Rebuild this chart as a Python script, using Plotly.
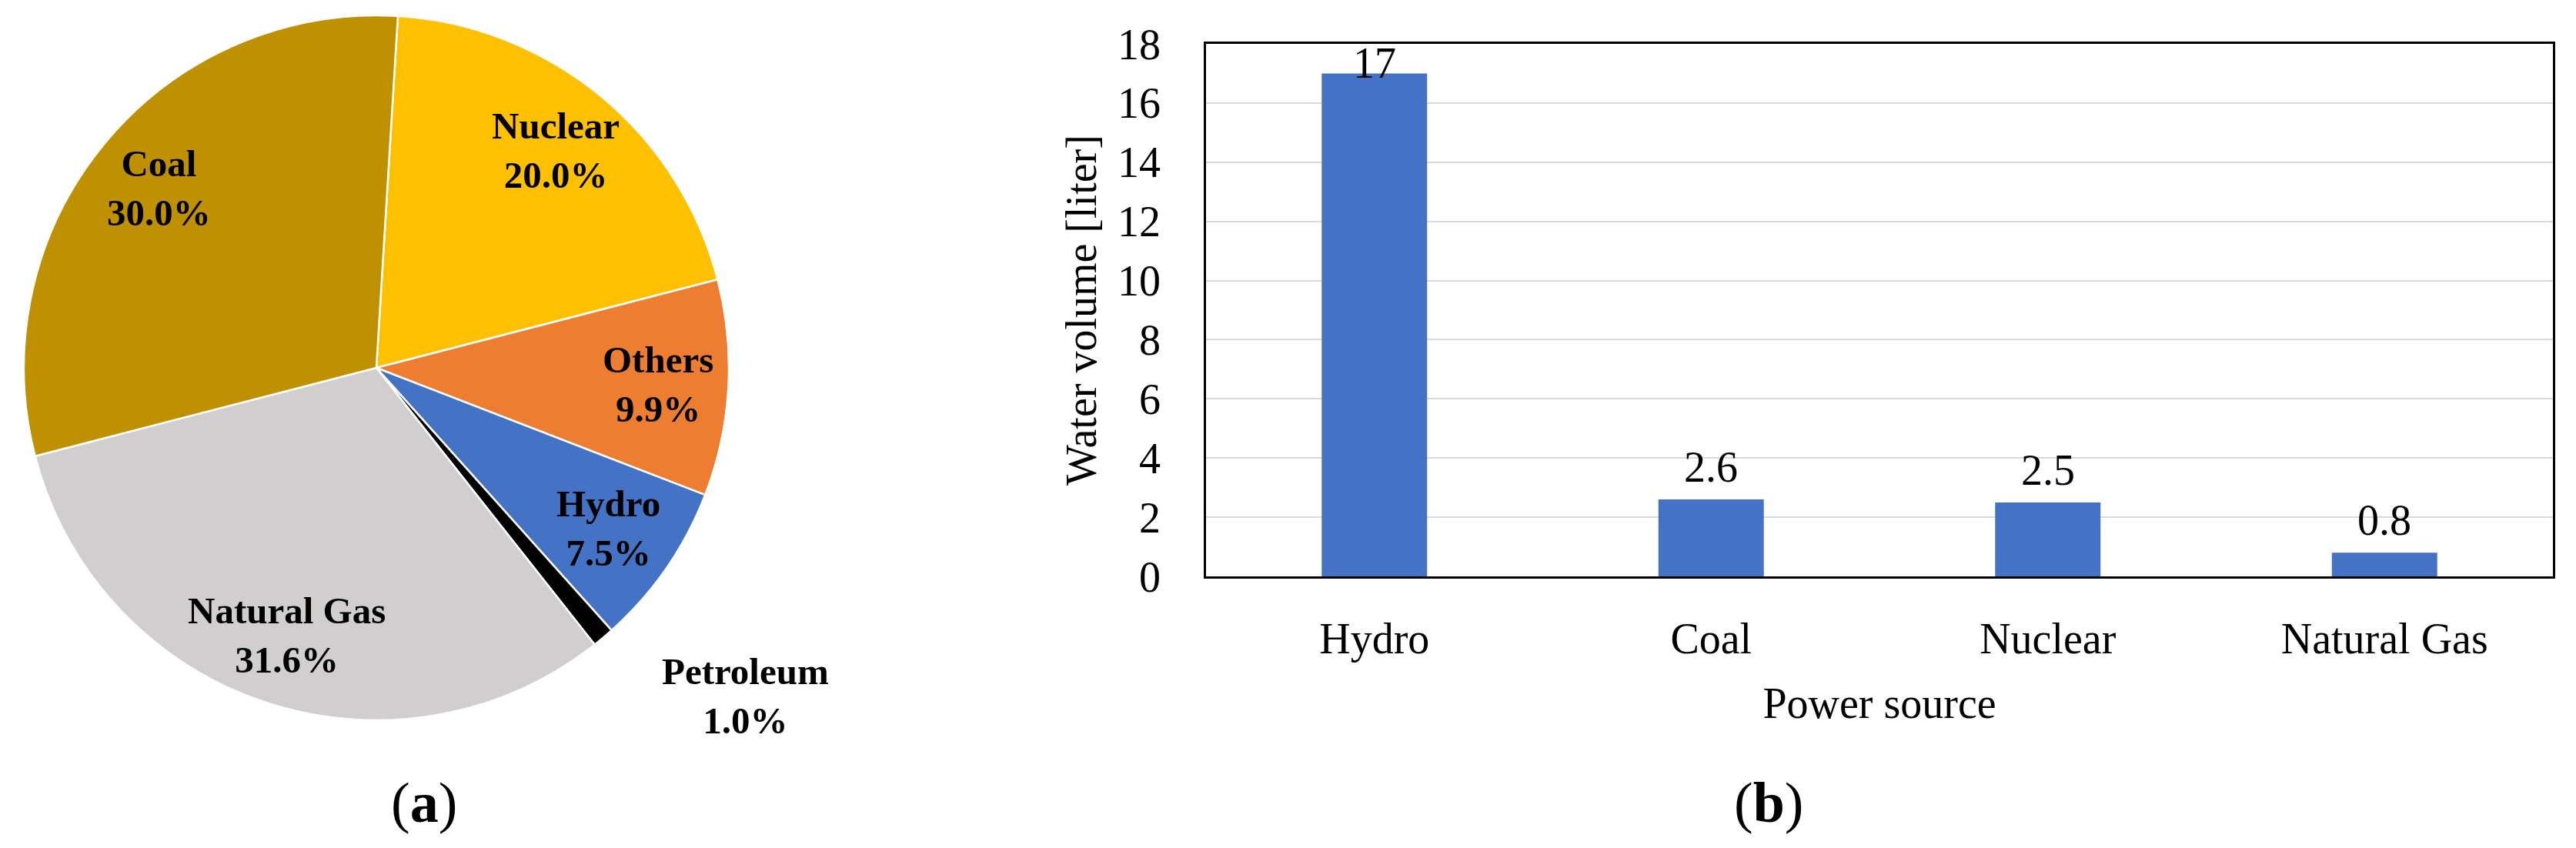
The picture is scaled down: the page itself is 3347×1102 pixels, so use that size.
import math
import plotly.graph_objects as go

# ---------------- data ----------------
pie_labels = ["Nuclear", "Others", "Hydro", "Petroleum", "Natural Gas", "Coal"]
pie_values = [20.0, 9.9, 7.5, 1.0, 31.6, 30.0]
pie_colors = ["#FFC000", "#ED7D31", "#4472C4", "#000000", "#D0CECE", "#BF9000"]
pie_label_outside = [False, False, False, True, False, False]

bar_categories = ["Hydro", "Coal", "Nuclear", "Natural Gas"]
bar_values = [17, 2.6, 2.5, 0.8]
bar_value_labels = ["17", "2.6", "2.5", "0.8"]
y_ticks = [0, 2, 4, 6, 8, 10, 12, 14, 16, 18]

# page / figure geometry: the browser body keeps its default 8px margin
PAGE_W, PAGE_H = 3347, 1102
OFF = 8
FW, FH = PAGE_W - 2 * OFF, PAGE_H - 2 * OFF
SERIF = "Liberation Serif"
ROTATION = 3.5


def px_x(X):
    return (X - OFF) / FW


def px_y(Y):
    return 1 - (Y - OFF) / FH


# pie geometry (page pixels)
PIE_L, PIE_R, PIE_T, PIE_B = 31, 947, 20, 936
pcx, pcy = (PIE_L + PIE_R) / 2, (PIE_T + PIE_B) / 2
pr = (PIE_R - PIE_L) / 2

fig = go.Figure()

# ---------------- (a) pie ----------------
fig.add_trace(go.Pie(
    labels=pie_labels,
    values=pie_values,
    sort=False,
    direction="clockwise",
    rotation=ROTATION,
    marker=dict(colors=pie_colors, line=dict(color="white", width=2.5)),
    textinfo="none",
    showlegend=False,
    hoverinfo="label+percent",
    automargin=False,
    domain=dict(x=[px_x(PIE_L), px_x(PIE_R)], y=[px_y(PIE_B), px_y(PIE_T)]),
))

annotations = []
total = sum(pie_values)
cum = 0.0
for lab, v, outside in zip(pie_labels, pie_values, pie_label_outside):
    mid = ROTATION + (cum + v / 2) / total * 360.0
    cum += v
    a = math.radians(mid)
    text = f"<b>{lab}</b><br><b>{v / total * 100:.1f}%</b>"
    font = dict(family=SERIF, size=49, color="black")
    if outside:
        rr = pr * 1.04
        X = pcx + rr * math.sin(a)
        Y = pcy - rr * math.cos(a)
        annotations.append(dict(
            x=px_x(X), y=px_y(Y), xref="paper", yref="paper", text=text,
            showarrow=False, xanchor="left", yanchor="top", xshift=62, font=font,
        ))
    else:
        rr = pr * 0.80
        X = pcx + rr * math.sin(a)
        Y = pcy - rr * math.cos(a)
        annotations.append(dict(
            x=px_x(X), y=px_y(Y), xref="paper", yref="paper", text=text,
            showarrow=False, xanchor="center", yanchor="middle", font=font,
        ))

# ---------------- (b) bar ----------------
fig.add_trace(go.Bar(
    x=bar_categories,
    y=bar_values,
    marker=dict(color="#4472C4", line=dict(width=0)),
    showlegend=False,
    xaxis="x", yaxis="y",
))

y_dom = [px_y(749), px_y(57)]
x_dom = [px_x(1567), px_x(3317)]
px_per_unit = (y_dom[1] - y_dom[0]) * FH / 18.0

for cat, v, lab in zip(bar_categories, bar_values, bar_value_labels):
    shift = min(42, (18 - v) * px_per_unit - 25)
    annotations.append(dict(
        x=cat, y=v, xref="x", yref="y", text=lab, showarrow=False,
        yanchor="middle", yshift=shift,
        font=dict(family=SERIF, size=56, color="black"),
    ))

annotations.append(dict(x=px_x(506), y=px_y(1043), xref="paper", yref="paper",
                        text="(<b>a</b>)", showarrow=False, yanchor="middle",
                        font=dict(family=SERIF, size=74, color="black")))
annotations.append(dict(x=px_x(2345), y=px_y(1043), xref="paper", yref="paper",
                        text="(<b>b</b>)", showarrow=False, yanchor="middle",
                        font=dict(family=SERIF, size=74, color="black")))

fig.update_layout(
    width=FW, height=FH,
    margin=dict(l=0, r=0, t=0, b=0, autoexpand=False),
    paper_bgcolor="white", plot_bgcolor="white",
    bargap=0.687,
    font=dict(family=SERIF, color="black"),
    xaxis=dict(
        domain=x_dom, type="category", automargin=False,
        showline=True, mirror=True, linecolor="black", linewidth=2.5,
        showgrid=False, ticks="",
        tickfont=dict(family=SERIF, size=56, color="black"),
        ticklabelstandoff=30,
        title=dict(text="Power source", font=dict(family=SERIF, size=56, color="black"), standoff=34),
    ),
    yaxis=dict(
        domain=y_dom, range=[0, 18], tickvals=y_ticks, automargin=False,
        showline=True, mirror=True, linecolor="black", linewidth=2.5,
        showgrid=True, gridcolor="#D9D9D9", gridwidth=2, zeroline=False, ticks="",
        tickfont=dict(family=SERIF, size=56, color="black"),
        ticklabelstandoff=45,
        title=dict(text="Water volume [liter]", font=dict(family=SERIF, size=56, color="black"), standoff=10),
    ),
    annotations=annotations,
)

fig.write_html("out.html")
